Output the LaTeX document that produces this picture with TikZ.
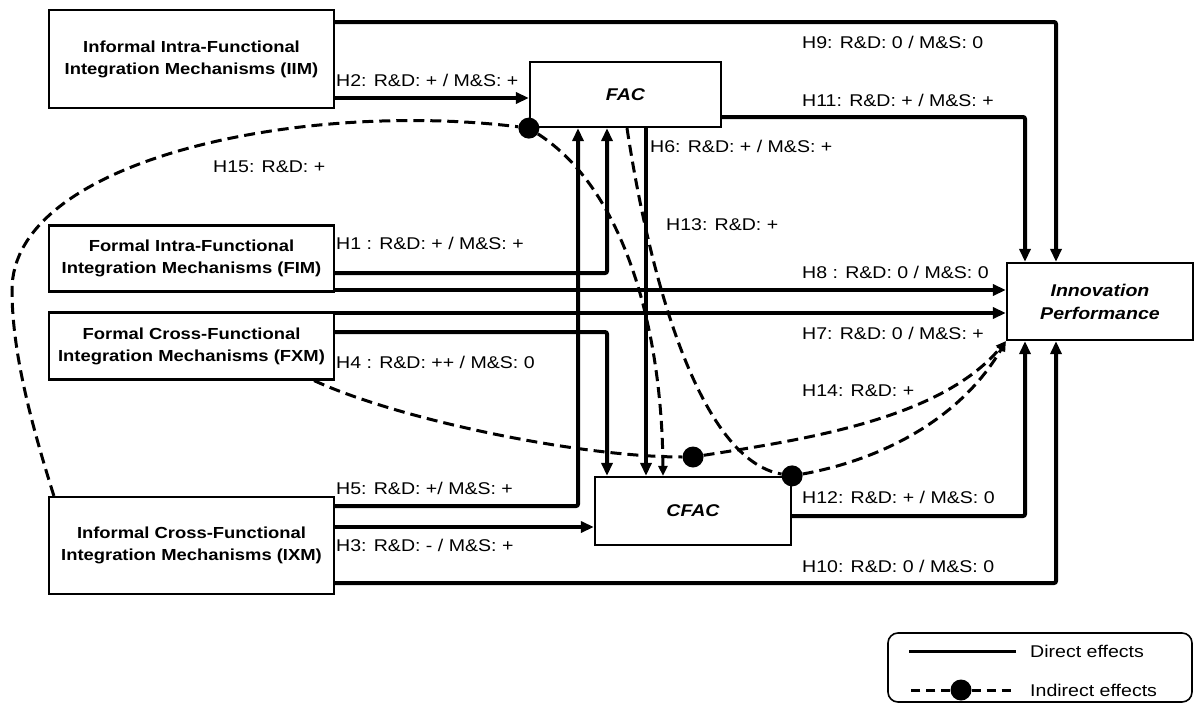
\documentclass[tikz,border=0pt]{standalone}
\usepackage{fontspec}
\setmainfont{Liberation Sans}[FakeStretch=1.15]
\usetikzlibrary{arrows.meta}

\begin{document}
\begin{tikzpicture}[x=1pt, y=-1pt,
    box/.style={draw, line width=2.2pt, align=center, font=\fontsize{16}{22}\selectfont\bfseries},
    core/.style={draw, line width=2.2pt, align=center, font=\fontsize{17}{23}\selectfont\bfseries\itshape},
    hyp/.style={anchor=west, inner sep=0pt, font=\fontsize{17}{20}\selectfont},
    direct/.style={line width=4pt, rounded corners=2pt, -{Triangle[length=13pt,width=11pt]}},
    indirect/.style={line width=3pt, dash pattern=on 11pt off 6pt},
    tip/.style={-{Triangle[length=10pt,width=9pt]}},
    dot/.style={circle, fill, inner sep=0pt, minimum size=21pt}]
    \useasboundingbox (0,0) rectangle (1195,704);

    % Mechanisms
    \node[box, minimum width=285pt, minimum height=98pt] (iim) at (191.5,59) {Informal Intra-Functional\\Integration Mechanisms (IIM)};
    \node[box, minimum width=285pt, minimum height=66pt] (fim) at (191.5,258.5) {Formal Intra-Functional\\Integration Mechanisms (FIM)};
    \node[box, minimum width=285pt, minimum height=67pt] (fxm) at (191.5,346) {Formal Cross-Functional\\Integration Mechanisms (FXM)};
    \node[box, minimum width=285pt, minimum height=97pt] (ixm) at (191.5,545.5) {Informal Cross-Functional\\Integration Mechanisms (IXM)};

    % Capabilities and outcome
    \node[core, minimum width=191pt, minimum height=65pt] (fac) at (625.5,94.5) {FAC};
    \node[core, minimum width=196pt, minimum height=68pt] (cfac) at (693,511) {CFAC};
    \node[core, minimum width=186pt, minimum height=77pt] (ip) at (1100,301.5) {Innovation\\Performance};

    % Direct effects
    \draw[direct] (iim.east |- 0,22) -| ([xshift=-44pt]ip.north);
    \draw[direct] (iim.east |- 0,98) -- (fac.west |- 0,98);
    \draw[direct] (fac.east |- 0,117) -| ([xshift=-75pt]ip.north);
    \draw[direct] (fac.south -| 646,0) -- (cfac.north -| 646,0);
    \draw[direct] (fim.east |- 0,273) -| (fac.south -| 607,0);
    \draw[direct] (fim.east |- 0,290) -- (ip.west |- 0,290);
    \draw[direct] (fxm.east |- 0,313) -- (ip.west |- 0,313);
    \draw[direct] (fxm.east |- 0,332) -| (cfac.north -| 607,0);
    \draw[direct] (ixm.east |- 0,506) -| (fac.south -| 578,0);
    \draw[direct] (ixm.east |- 0,527) -- (cfac.west |- 0,527);
    \draw[direct] (cfac.east |- 0,516) -| ([xshift=-75pt]ip.south);
    \draw[direct] (ixm.east |- 0,583) -| ([xshift=-44pt]ip.south);

    % Indirect effects
    \node[dot] (d1) at (fac.south west) {};
    \node[dot] (d2) at (cfac.north east) {};
    \node[dot] (d3) at (693,457) {};
    \draw[indirect] ([xshift=6pt]ixm.north west) .. controls (30,420) and (12,350) .. (12,290)
        .. controls (12,160) and (300,100) .. (d1);
    \draw[indirect, tip] (d1) .. controls (625,190) and (662,330) .. (cfac.north -| 663,0);
    \draw[indirect] (fac.south -| 627,0) .. controls (650,280) and (700,460) .. (d2);
    \draw[indirect, tip] (d2) .. controls (880,460) and (960,420) .. (ip.south west);
    \draw[indirect] ([xshift=-21pt]fxm.south east) .. controls (400,420) and (580,457) .. (d3);
    \draw[indirect, tip] (d3) .. controls (800,440) and (940,420) .. (ip.south west);

    % Hypotheses
    \node[hyp] (h2) at (336,80) {H2: R\&D: + / M\&S: +};
    \node[hyp] (h9) at (802,42) {H9: R\&D: 0 / M\&S: 0};
    \node[hyp] (h11) at (802,100) {H11: R\&D: + / M\&S: +};
    \node[hyp] (h6) at (650,146) {H6: R\&D: + / M\&S: +};
    \node[hyp] (h15) at (213,167) {H15: R\&D: +};
    \node[hyp] (h13) at (666,225) {H13: R\&D: +};
    \node[hyp] (h1) at (336,243) {H1 : R\&D: + / M\&S: +};
    \node[hyp] (h8) at (802,272) {H8 : R\&D: 0 / M\&S: 0};
    \node[hyp] (h7) at (802,333) {H7: R\&D: 0 / M\&S: +};
    \node[hyp] (h4) at (336,362) {H4 : R\&D: ++ / M\&S: 0};
    \node[hyp] (h14) at (802,391) {H14: R\&D: +};
    \node[hyp] (h5) at (336,488) {H5: R\&D: +/ M\&S: +};
    \node[hyp] (h12) at (802,497) {H12: R\&D: + / M\&S: 0};
    \node[hyp] (h3) at (336,545) {H3: R\&D: - / M\&S: +};
    \node[hyp] (h10) at (802,566) {H10: R\&D: 0 / M\&S: 0};

    % Legend
    \draw[line width=1.6pt, rounded corners=10pt] (888,633) rectangle (1192,702);
    \node[hyp] (ldir) at (1030,651) {Direct effects};
    \node[hyp] (lind) at (1030,690) {Indirect effects};
    \draw[line width=3pt] ([xshift=-14pt]ldir.west) -- ++(-107,0);
    \node[dot] (ldot) at (961,690) {};
    \draw[indirect, dash pattern=on 9pt off 6pt] (ldot) -- ([xshift=-14pt]lind.west);
    \draw[indirect, dash pattern=on 9pt off 6pt] (ldot) -- (909,690);
\end{tikzpicture}
\end{document}
